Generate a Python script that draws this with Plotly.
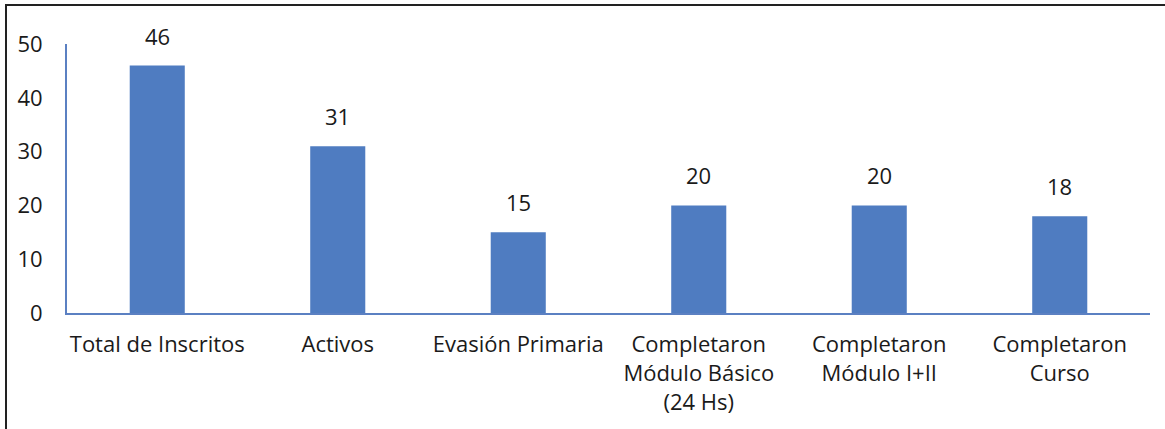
import plotly.graph_objects as go

categories = ["Total de Inscritos", "Activos", "Evasión Primaria",
              "Completaron<br>Módulo Básico<br>(24 Hs)", "Completaron<br>Módulo I+II",
              "Completaron<br>Curso"]
values = [46, 31, 15, 20, 20, 18]
y_ticks = [0, 10, 20, 30, 40, 50]

W, H = 1165, 429
ml, mr, mt, mb = 67, 15, 44, 116

FONT = "Open Sans"
FS = 22
fig = go.Figure(go.Bar(
    x=categories, y=values, marker_color="#4F7CC1", marker_line_width=0,
    cliponaxis=False, hoverinfo="x+y",
))

for c, v in zip(categories, values):
    fig.add_annotation(x=c, y=v, text=str(v), showarrow=False, yanchor="bottom",
                       yshift=13, font=dict(family=FONT, size=FS, color="#1a1a1a"))

fig.update_layout(
    width=W, height=H,
    margin=dict(l=ml, r=mr, t=mt, b=mb),
    paper_bgcolor="white", plot_bgcolor="white",
    bargap=0.695, showlegend=False,
    font=dict(family=FONT, size=FS, color="#1a1a1a"),
    xaxis=dict(showline=True, linecolor="#5B80C2", linewidth=2, ticks="",
               showgrid=False, tickfont=dict(size=FS), ticklabelstandoff=11),
    yaxis=dict(range=[0, 50], tickvals=y_ticks, showline=True, linecolor="#5B80C2",
               linewidth=2, showgrid=False, zeroline=False, ticks="",
               tickfont=dict(size=FS), ticklabelstandoff=18),
)

pw = W - ml - mr
ph = H - mt - mb
def px_x(p): return (p - ml) / pw
def px_y(p): return (H - mb - p) / ph

fig.add_shape(type="rect", xref="paper", yref="paper",
              x0=px_x(6), x1=px_x(1168), y0=px_y(440), y1=px_y(5),
              line=dict(color="#222222", width=2), fillcolor="rgba(0,0,0,0)", layer="above")

fig.write_html("out.html")
